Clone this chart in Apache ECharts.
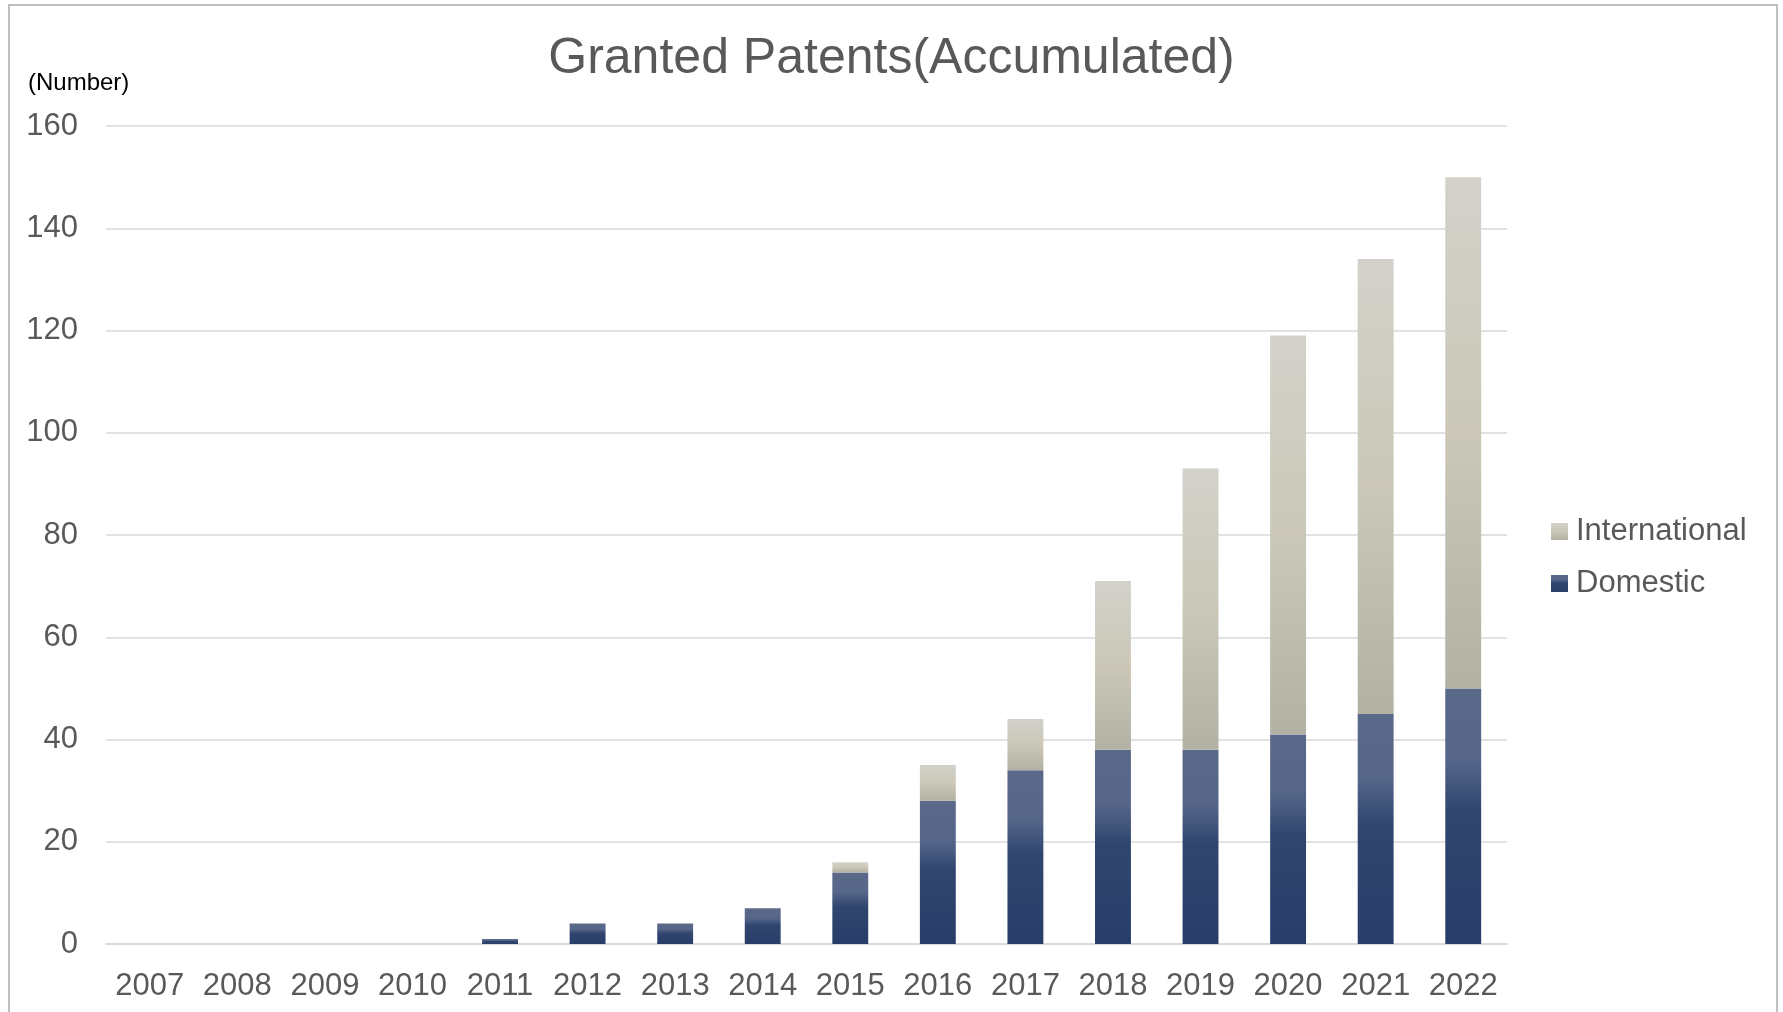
<!DOCTYPE html>
<html>
<head>
<meta charset="utf-8">
<title>Granted Patents (Accumulated)</title>
<script src="https://cdn.jsdelivr.net/npm/echarts@6/dist/echarts.min.js"></script>
<style>
  html, body { margin: 0; padding: 0; background: #ffffff; }
  #chart { width: 1783px; height: 1012px; }
</style>
</head>
<body>
<div id="chart"></div>
<script>
// Fiscal years on the category axis
const years = ['2007', '2008', '2009', '2010', '2011', '2012', '2013', '2014',
               '2015', '2016', '2017', '2018', '2019', '2020', '2021', '2022'];

// Accumulated granted patents per year
const domestic      = [0, 0, 0, 0, 1, 4, 4, 7, 14, 28, 34, 38, 38, 41, 45, 50];
const international = [0, 0, 0, 0, 0, 0, 0, 0, 2, 7, 10, 33, 55, 78, 89, 100];

// Value axis ticks
const yMin = 0;
const yMax = 160;
const yStep = 20;

const FONT = '"Liberation Sans", Arial, "Noto Sans", sans-serif';
const TEXT_GREY = '#595959';
const GRID_GREY = '#d9d9d9';

const domesticFill = new echarts.graphic.LinearGradient(0, 0, 0, 1, [
  { offset: 0,    color: '#5a6989' },
  { offset: 0.28, color: '#56668a' },
  { offset: 0.48, color: '#30466f' },
  { offset: 1,    color: '#283e69' }
]);

const internationalFill = new echarts.graphic.LinearGradient(0, 0, 0, 1, [
  { offset: 0,   color: '#d3d1ca' },
  { offset: 0.5, color: '#cbc8b8' },
  { offset: 1,   color: '#b3b1a4' }
]);

const chart = echarts.init(document.getElementById('chart'), null, { renderer: 'canvas' });

chart.setOption({
  backgroundColor: '#ffffff',
  animation: false,
  textStyle: { fontFamily: FONT },
  title: {
    text: 'Granted Patents(Accumulated)',
    left: 'center',
    top: 34,
    padding: [0, 0, 0, 6],
    textStyle: {
      fontFamily: FONT,
      fontSize: 50,
      fontWeight: 'normal',
      color: TEXT_GREY
    }
  },
  graphic: [
    {
      type: 'rect',
      silent: true,
      shape: { x: 9, y: 5, width: 1768, height: 1040 },
      style: { fill: 'none', stroke: '#bfbfbf', lineWidth: 2 }
    },
    {
      type: 'text',
      silent: true,
      left: 28,
      top: 71,
      style: {
        text: '(Number)',
        fontFamily: FONT,
        fontSize: 24,
        fill: '#000000'
      }
    }
  ],
  legend: {
    orient: 'vertical',
    left: 1546,
    top: 511,
    data: ['International', 'Domestic'],
    itemWidth: 17,
    itemHeight: 17,
    itemGap: 21,
    icon: 'rect',
    textStyle: {
      fontFamily: FONT,
      fontSize: 31,
      color: TEXT_GREY,
      padding: [0, 0, 0, 3]
    }
  },
  grid: {
    left: 106,
    right: 276,
    top: 126,
    bottom: 68,
    containLabel: false
  },
  xAxis: {
    type: 'category',
    data: years,
    axisTick: { show: false },
    axisLine: { show: true, lineStyle: { color: GRID_GREY, width: 1.5 } },
    axisLabel: {
      fontFamily: FONT,
      fontSize: 31,
      color: TEXT_GREY,
      margin: 27,
      interval: 0
    }
  },
  yAxis: {
    type: 'value',
    min: yMin,
    max: yMax,
    interval: yStep,
    axisLine: { show: false },
    axisTick: { show: false },
    splitLine: { lineStyle: { color: GRID_GREY, width: 1.5 } },
    axisLabel: {
      fontFamily: FONT,
      fontSize: 31,
      color: TEXT_GREY,
      margin: 28
    }
  },
  series: [
    {
      name: 'Domestic',
      type: 'bar',
      stack: 'total',
      barWidth: '41%',
      data: domestic,
      itemStyle: { color: domesticFill }
    },
    {
      name: 'International',
      type: 'bar',
      stack: 'total',
      barWidth: '41%',
      data: international,
      itemStyle: { color: internationalFill }
    }
  ]
});
</script>
</body>
</html>
